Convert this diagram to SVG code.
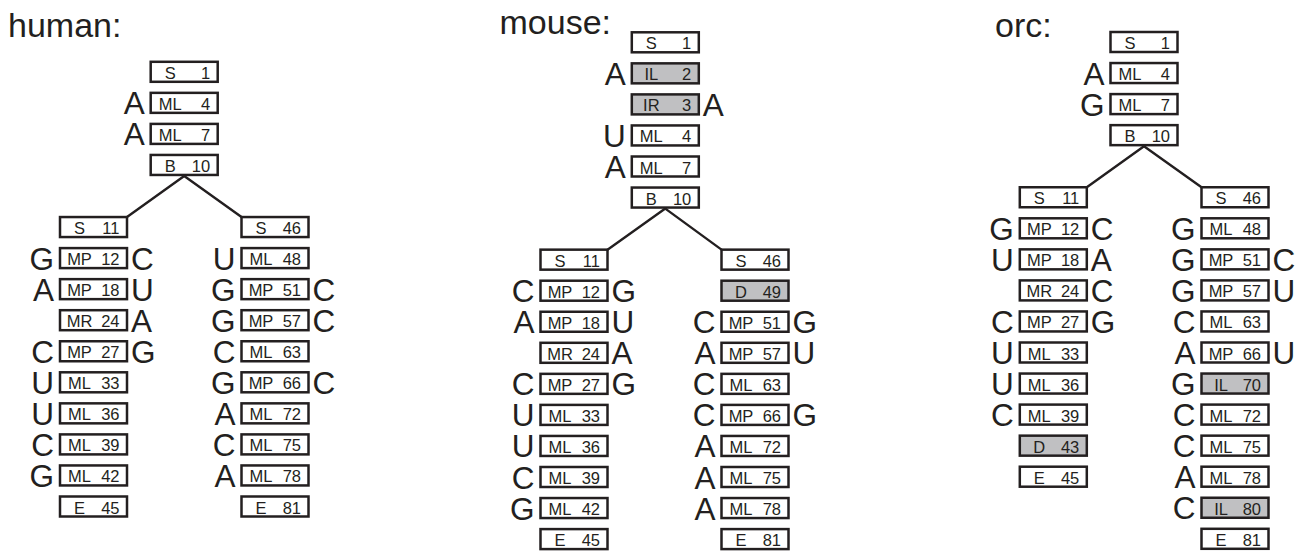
<svg xmlns="http://www.w3.org/2000/svg" width="1296" height="552" viewBox="0 0 1296 552">
<style>
text{font-family:"Liberation Sans",Arial,Helvetica,sans-serif;fill:#231f20}
.b{fill:#fff;stroke:#231f20;stroke-width:2.5}
.g{fill:#c0c0c2;stroke:#231f20;stroke-width:2.5}
.l{font-size:16.5px;text-anchor:middle}
.n{font-size:16.5px;text-anchor:end}
.nl{font-size:31.5px;text-anchor:end}
.nr{font-size:31.5px;text-anchor:start}
.t{font-size:34px}
.c line{stroke:#231f20;stroke-width:2.4;stroke-linecap:round}
</style>
<defs>
<rect id="bx" class="b" x="-33.5" y="-10" width="67" height="20"/>
<rect id="gx" class="g" x="-33.5" y="-10" width="67" height="20"/>
</defs>
<text class="t" x="8" y="36.5">human:</text>
<text class="t" x="499.5" y="33.5">mouse:</text>
<text class="t" x="995" y="36.5">orc:</text>
<g class="c" id="connectors">
<line x1="184.2" y1="176" x2="127" y2="217.05"/>
<line x1="184.2" y1="176" x2="241.5" y2="217.05"/>
<line x1="665.3" y1="208.6" x2="607.5" y2="249.65"/>
<line x1="665.3" y1="208.6" x2="721.5" y2="249.65"/>
<line x1="1144" y1="146.2" x2="1086.8" y2="187.25"/>
<line x1="1144" y1="146.2" x2="1201.5" y2="187.25"/>
</g>
<!-- human -->
<g id="h-S1" transform="translate(184.2,71.8)"><use href="#bx"/><text class="l" x="-14" y="7">S</text><text class="n" x="26" y="7">1</text></g>
<g id="h-ML4" transform="translate(184.2,102.85)"><use href="#bx"/><text class="l" x="-14" y="7">ML</text><text class="n" x="26" y="7">4</text><text class="nl" x="-39.5" y="11.5">A</text></g>
<g id="h-ML7" transform="translate(184.2,133.9)"><use href="#bx"/><text class="l" x="-14" y="7">ML</text><text class="n" x="26" y="7">7</text><text class="nl" x="-39.5" y="11.5">A</text></g>
<g id="h-B10" transform="translate(184.2,164.95)"><use href="#bx"/><text class="l" x="-14" y="7">B</text><text class="n" x="26" y="7">10</text></g>
<g id="h-S11" transform="translate(93.5,227.05)"><use href="#bx"/><text class="l" x="-14" y="7">S</text><text class="n" x="26" y="7">11</text></g>
<g id="h-MP12" transform="translate(93.5,258.1)"><use href="#bx"/><text class="l" x="-14" y="7">MP</text><text class="n" x="26" y="7">12</text><text class="nl" x="-39.5" y="11.5">G</text><text class="nr" x="37.5" y="11.5">C</text></g>
<g id="h-MP18" transform="translate(93.5,289.15)"><use href="#bx"/><text class="l" x="-14" y="7">MP</text><text class="n" x="26" y="7">18</text><text class="nl" x="-39.5" y="11.5">A</text><text class="nr" x="37.5" y="11.5">U</text></g>
<g id="h-MR24" transform="translate(93.5,320.2)"><use href="#bx"/><text class="l" x="-14" y="7">MR</text><text class="n" x="26" y="7">24</text><text class="nr" x="37.5" y="11.5">A</text></g>
<g id="h-MP27" transform="translate(93.5,351.25)"><use href="#bx"/><text class="l" x="-14" y="7">MP</text><text class="n" x="26" y="7">27</text><text class="nl" x="-39.5" y="11.5">C</text><text class="nr" x="37.5" y="11.5">G</text></g>
<g id="h-ML33" transform="translate(93.5,382.3)"><use href="#bx"/><text class="l" x="-14" y="7">ML</text><text class="n" x="26" y="7">33</text><text class="nl" x="-39.5" y="11.5">U</text></g>
<g id="h-ML36" transform="translate(93.5,413.35)"><use href="#bx"/><text class="l" x="-14" y="7">ML</text><text class="n" x="26" y="7">36</text><text class="nl" x="-39.5" y="11.5">U</text></g>
<g id="h-ML39" transform="translate(93.5,444.4)"><use href="#bx"/><text class="l" x="-14" y="7">ML</text><text class="n" x="26" y="7">39</text><text class="nl" x="-39.5" y="11.5">C</text></g>
<g id="h-ML42" transform="translate(93.5,475.45)"><use href="#bx"/><text class="l" x="-14" y="7">ML</text><text class="n" x="26" y="7">42</text><text class="nl" x="-39.5" y="11.5">G</text></g>
<g id="h-E45" transform="translate(93.5,506.5)"><use href="#bx"/><text class="l" x="-14" y="7">E</text><text class="n" x="26" y="7">45</text></g>
<g id="h-S46" transform="translate(275,227.05)"><use href="#bx"/><text class="l" x="-14" y="7">S</text><text class="n" x="26" y="7">46</text></g>
<g id="h-ML48" transform="translate(275,258.1)"><use href="#bx"/><text class="l" x="-14" y="7">ML</text><text class="n" x="26" y="7">48</text><text class="nl" x="-39.5" y="11.5">U</text></g>
<g id="h-MP51" transform="translate(275,289.15)"><use href="#bx"/><text class="l" x="-14" y="7">MP</text><text class="n" x="26" y="7">51</text><text class="nl" x="-39.5" y="11.5">G</text><text class="nr" x="37.5" y="11.5">C</text></g>
<g id="h-MP57" transform="translate(275,320.2)"><use href="#bx"/><text class="l" x="-14" y="7">MP</text><text class="n" x="26" y="7">57</text><text class="nl" x="-39.5" y="11.5">G</text><text class="nr" x="37.5" y="11.5">C</text></g>
<g id="h-ML63" transform="translate(275,351.25)"><use href="#bx"/><text class="l" x="-14" y="7">ML</text><text class="n" x="26" y="7">63</text><text class="nl" x="-39.5" y="11.5">C</text></g>
<g id="h-MP66" transform="translate(275,382.3)"><use href="#bx"/><text class="l" x="-14" y="7">MP</text><text class="n" x="26" y="7">66</text><text class="nl" x="-39.5" y="11.5">G</text><text class="nr" x="37.5" y="11.5">C</text></g>
<g id="h-ML72" transform="translate(275,413.35)"><use href="#bx"/><text class="l" x="-14" y="7">ML</text><text class="n" x="26" y="7">72</text><text class="nl" x="-39.5" y="11.5">A</text></g>
<g id="h-ML75" transform="translate(275,444.4)"><use href="#bx"/><text class="l" x="-14" y="7">ML</text><text class="n" x="26" y="7">75</text><text class="nl" x="-39.5" y="11.5">C</text></g>
<g id="h-ML78" transform="translate(275,475.45)"><use href="#bx"/><text class="l" x="-14" y="7">ML</text><text class="n" x="26" y="7">78</text><text class="nl" x="-39.5" y="11.5">A</text></g>
<g id="h-E81" transform="translate(275,506.5)"><use href="#bx"/><text class="l" x="-14" y="7">E</text><text class="n" x="26" y="7">81</text></g>
<!-- mouse -->
<g id="m-S1" transform="translate(665.3,42.3)"><use href="#bx"/><text class="l" x="-14" y="7">S</text><text class="n" x="26" y="7">1</text></g>
<g id="m-IL2" transform="translate(665.3,73.35)"><use href="#gx"/><text class="l" x="-14" y="7">IL</text><text class="n" x="26" y="7">2</text><text class="nl" x="-39.5" y="11.5">A</text></g>
<g id="m-IR3" transform="translate(665.3,104.4)"><use href="#gx"/><text class="l" x="-14" y="7">IR</text><text class="n" x="26" y="7">3</text><text class="nr" x="37.5" y="11.5">A</text></g>
<g id="m-ML4" transform="translate(665.3,135.45)"><use href="#bx"/><text class="l" x="-14" y="7">ML</text><text class="n" x="26" y="7">4</text><text class="nl" x="-39.5" y="11.5">U</text></g>
<g id="m-ML7" transform="translate(665.3,166.5)"><use href="#bx"/><text class="l" x="-14" y="7">ML</text><text class="n" x="26" y="7">7</text><text class="nl" x="-39.5" y="11.5">A</text></g>
<g id="m-B10" transform="translate(665.3,197.55)"><use href="#bx"/><text class="l" x="-14" y="7">B</text><text class="n" x="26" y="7">10</text></g>
<g id="m-S11" transform="translate(574,259.65)"><use href="#bx"/><text class="l" x="-14" y="7">S</text><text class="n" x="26" y="7">11</text></g>
<g id="m-MP12" transform="translate(574,290.7)"><use href="#bx"/><text class="l" x="-14" y="7">MP</text><text class="n" x="26" y="7">12</text><text class="nl" x="-39.5" y="11.5">C</text><text class="nr" x="37.5" y="11.5">G</text></g>
<g id="m-MP18" transform="translate(574,321.75)"><use href="#bx"/><text class="l" x="-14" y="7">MP</text><text class="n" x="26" y="7">18</text><text class="nl" x="-39.5" y="11.5">A</text><text class="nr" x="37.5" y="11.5">U</text></g>
<g id="m-MR24" transform="translate(574,352.8)"><use href="#bx"/><text class="l" x="-14" y="7">MR</text><text class="n" x="26" y="7">24</text><text class="nr" x="37.5" y="11.5">A</text></g>
<g id="m-MP27" transform="translate(574,383.85)"><use href="#bx"/><text class="l" x="-14" y="7">MP</text><text class="n" x="26" y="7">27</text><text class="nl" x="-39.5" y="11.5">C</text><text class="nr" x="37.5" y="11.5">G</text></g>
<g id="m-ML33" transform="translate(574,414.9)"><use href="#bx"/><text class="l" x="-14" y="7">ML</text><text class="n" x="26" y="7">33</text><text class="nl" x="-39.5" y="11.5">U</text></g>
<g id="m-ML36" transform="translate(574,445.95)"><use href="#bx"/><text class="l" x="-14" y="7">ML</text><text class="n" x="26" y="7">36</text><text class="nl" x="-39.5" y="11.5">U</text></g>
<g id="m-ML39" transform="translate(574,477)"><use href="#bx"/><text class="l" x="-14" y="7">ML</text><text class="n" x="26" y="7">39</text><text class="nl" x="-39.5" y="11.5">C</text></g>
<g id="m-ML42" transform="translate(574,508.05)"><use href="#bx"/><text class="l" x="-14" y="7">ML</text><text class="n" x="26" y="7">42</text><text class="nl" x="-39.5" y="11.5">G</text></g>
<g id="m-E45" transform="translate(574,539.1)"><use href="#bx"/><text class="l" x="-14" y="7">E</text><text class="n" x="26" y="7">45</text></g>
<g id="m-S46" transform="translate(755,259.65)"><use href="#bx"/><text class="l" x="-14" y="7">S</text><text class="n" x="26" y="7">46</text></g>
<g id="m-D49" transform="translate(755,290.7)"><use href="#gx"/><text class="l" x="-14" y="7">D</text><text class="n" x="26" y="7">49</text></g>
<g id="m-MP51" transform="translate(755,321.75)"><use href="#bx"/><text class="l" x="-14" y="7">MP</text><text class="n" x="26" y="7">51</text><text class="nl" x="-39.5" y="11.5">C</text><text class="nr" x="37.5" y="11.5">G</text></g>
<g id="m-MP57" transform="translate(755,352.8)"><use href="#bx"/><text class="l" x="-14" y="7">MP</text><text class="n" x="26" y="7">57</text><text class="nl" x="-39.5" y="11.5">A</text><text class="nr" x="37.5" y="11.5">U</text></g>
<g id="m-ML63" transform="translate(755,383.85)"><use href="#bx"/><text class="l" x="-14" y="7">ML</text><text class="n" x="26" y="7">63</text><text class="nl" x="-39.5" y="11.5">C</text></g>
<g id="m-MP66" transform="translate(755,414.9)"><use href="#bx"/><text class="l" x="-14" y="7">MP</text><text class="n" x="26" y="7">66</text><text class="nl" x="-39.5" y="11.5">C</text><text class="nr" x="37.5" y="11.5">G</text></g>
<g id="m-ML72" transform="translate(755,445.95)"><use href="#bx"/><text class="l" x="-14" y="7">ML</text><text class="n" x="26" y="7">72</text><text class="nl" x="-39.5" y="11.5">A</text></g>
<g id="m-ML75" transform="translate(755,477)"><use href="#bx"/><text class="l" x="-14" y="7">ML</text><text class="n" x="26" y="7">75</text><text class="nl" x="-39.5" y="11.5">A</text></g>
<g id="m-ML78" transform="translate(755,508.05)"><use href="#bx"/><text class="l" x="-14" y="7">ML</text><text class="n" x="26" y="7">78</text><text class="nl" x="-39.5" y="11.5">A</text></g>
<g id="m-E81" transform="translate(755,539.1)"><use href="#bx"/><text class="l" x="-14" y="7">E</text><text class="n" x="26" y="7">81</text></g>
<!-- orc -->
<g id="o-S1" transform="translate(1144,42)"><use href="#bx"/><text class="l" x="-14" y="7">S</text><text class="n" x="26" y="7">1</text></g>
<g id="o-ML4" transform="translate(1144,73.05)"><use href="#bx"/><text class="l" x="-14" y="7">ML</text><text class="n" x="26" y="7">4</text><text class="nl" x="-39.5" y="11.5">A</text></g>
<g id="o-ML7" transform="translate(1144,104.1)"><use href="#bx"/><text class="l" x="-14" y="7">ML</text><text class="n" x="26" y="7">7</text><text class="nl" x="-39.5" y="11.5">G</text></g>
<g id="o-B10" transform="translate(1144,135.15)"><use href="#bx"/><text class="l" x="-14" y="7">B</text><text class="n" x="26" y="7">10</text></g>
<g id="o-S11" transform="translate(1053.3,197.25)"><use href="#bx"/><text class="l" x="-14" y="7">S</text><text class="n" x="26" y="7">11</text></g>
<g id="o-MP12" transform="translate(1053.3,228.3)"><use href="#bx"/><text class="l" x="-14" y="7">MP</text><text class="n" x="26" y="7">12</text><text class="nl" x="-39.5" y="11.5">G</text><text class="nr" x="37.5" y="11.5">C</text></g>
<g id="o-MP18" transform="translate(1053.3,259.35)"><use href="#bx"/><text class="l" x="-14" y="7">MP</text><text class="n" x="26" y="7">18</text><text class="nl" x="-39.5" y="11.5">U</text><text class="nr" x="37.5" y="11.5">A</text></g>
<g id="o-MR24" transform="translate(1053.3,290.4)"><use href="#bx"/><text class="l" x="-14" y="7">MR</text><text class="n" x="26" y="7">24</text><text class="nr" x="37.5" y="11.5">C</text></g>
<g id="o-MP27" transform="translate(1053.3,321.45)"><use href="#bx"/><text class="l" x="-14" y="7">MP</text><text class="n" x="26" y="7">27</text><text class="nl" x="-39.5" y="11.5">C</text><text class="nr" x="37.5" y="11.5">G</text></g>
<g id="o-ML33" transform="translate(1053.3,352.5)"><use href="#bx"/><text class="l" x="-14" y="7">ML</text><text class="n" x="26" y="7">33</text><text class="nl" x="-39.5" y="11.5">U</text></g>
<g id="o-ML36" transform="translate(1053.3,383.55)"><use href="#bx"/><text class="l" x="-14" y="7">ML</text><text class="n" x="26" y="7">36</text><text class="nl" x="-39.5" y="11.5">U</text></g>
<g id="o-ML39" transform="translate(1053.3,414.6)"><use href="#bx"/><text class="l" x="-14" y="7">ML</text><text class="n" x="26" y="7">39</text><text class="nl" x="-39.5" y="11.5">C</text></g>
<g id="o-D43" transform="translate(1053.3,445.65)"><use href="#gx"/><text class="l" x="-14" y="7">D</text><text class="n" x="26" y="7">43</text></g>
<g id="o-E45" transform="translate(1053.3,476.7)"><use href="#bx"/><text class="l" x="-14" y="7">E</text><text class="n" x="26" y="7">45</text></g>
<g id="o-S46" transform="translate(1235,197.25)"><use href="#bx"/><text class="l" x="-14" y="7">S</text><text class="n" x="26" y="7">46</text></g>
<g id="o-ML48" transform="translate(1235,228.3)"><use href="#bx"/><text class="l" x="-14" y="7">ML</text><text class="n" x="26" y="7">48</text><text class="nl" x="-39.5" y="11.5">G</text></g>
<g id="o-MP51" transform="translate(1235,259.35)"><use href="#bx"/><text class="l" x="-14" y="7">MP</text><text class="n" x="26" y="7">51</text><text class="nl" x="-39.5" y="11.5">G</text><text class="nr" x="37.5" y="11.5">C</text></g>
<g id="o-MP57" transform="translate(1235,290.4)"><use href="#bx"/><text class="l" x="-14" y="7">MP</text><text class="n" x="26" y="7">57</text><text class="nl" x="-39.5" y="11.5">G</text><text class="nr" x="37.5" y="11.5">U</text></g>
<g id="o-ML63" transform="translate(1235,321.45)"><use href="#bx"/><text class="l" x="-14" y="7">ML</text><text class="n" x="26" y="7">63</text><text class="nl" x="-39.5" y="11.5">C</text></g>
<g id="o-MP66" transform="translate(1235,352.5)"><use href="#bx"/><text class="l" x="-14" y="7">MP</text><text class="n" x="26" y="7">66</text><text class="nl" x="-39.5" y="11.5">A</text><text class="nr" x="37.5" y="11.5">U</text></g>
<g id="o-IL70" transform="translate(1235,383.55)"><use href="#gx"/><text class="l" x="-14" y="7">IL</text><text class="n" x="26" y="7">70</text><text class="nl" x="-39.5" y="11.5">G</text></g>
<g id="o-ML72" transform="translate(1235,414.6)"><use href="#bx"/><text class="l" x="-14" y="7">ML</text><text class="n" x="26" y="7">72</text><text class="nl" x="-39.5" y="11.5">C</text></g>
<g id="o-ML75" transform="translate(1235,445.65)"><use href="#bx"/><text class="l" x="-14" y="7">ML</text><text class="n" x="26" y="7">75</text><text class="nl" x="-39.5" y="11.5">C</text></g>
<g id="o-ML78" transform="translate(1235,476.7)"><use href="#bx"/><text class="l" x="-14" y="7">ML</text><text class="n" x="26" y="7">78</text><text class="nl" x="-39.5" y="11.5">A</text></g>
<g id="o-IL80" transform="translate(1235,507.75)"><use href="#gx"/><text class="l" x="-14" y="7">IL</text><text class="n" x="26" y="7">80</text><text class="nl" x="-39.5" y="11.5">C</text></g>
<g id="o-E81" transform="translate(1235,538.8)"><use href="#bx"/><text class="l" x="-14" y="7">E</text><text class="n" x="26" y="7">81</text></g>
</svg>
